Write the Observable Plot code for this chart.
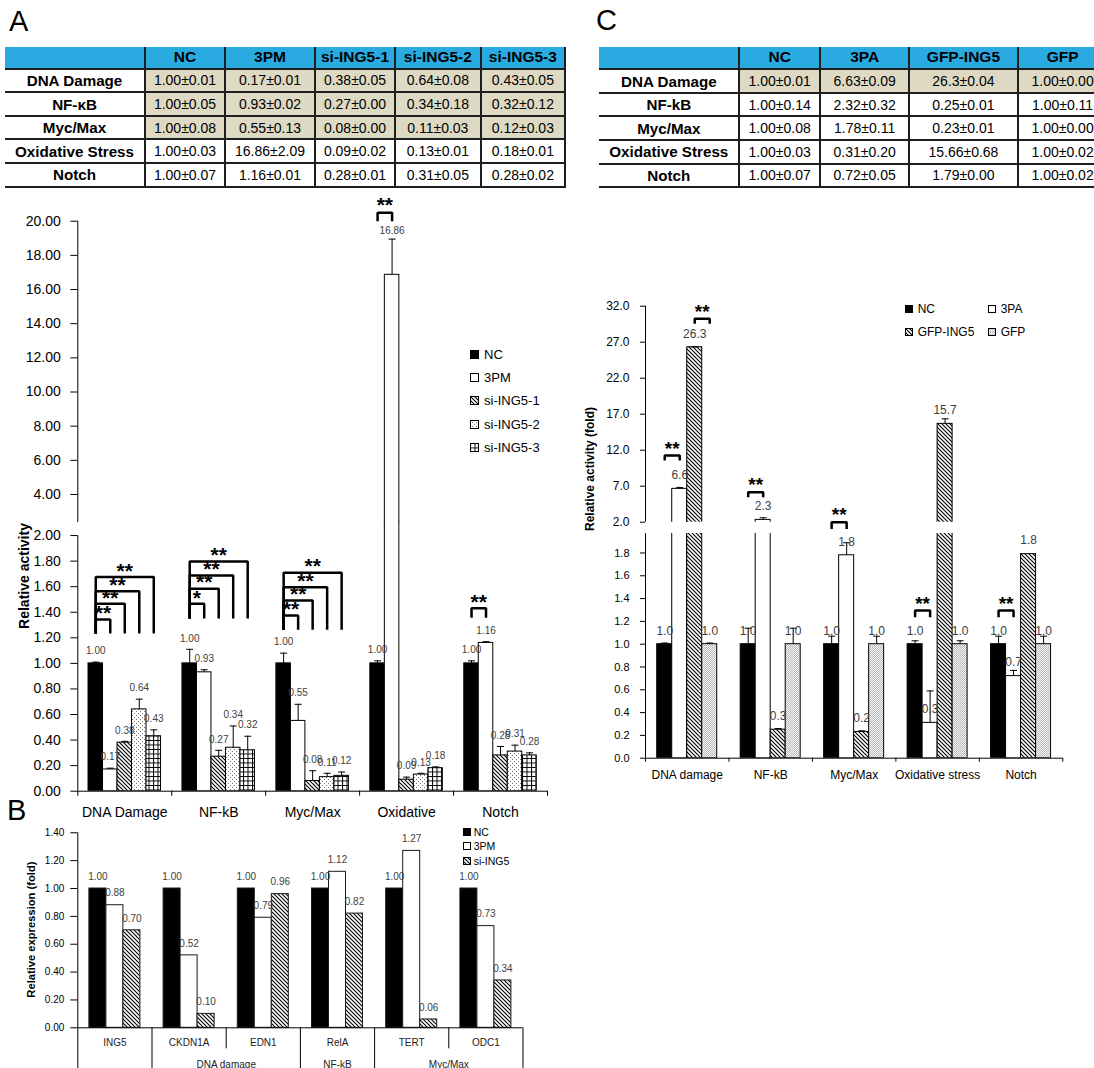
<!DOCTYPE html>
<html><head><meta charset="utf-8">
<script src="https://cdn.jsdelivr.net/npm/d3@7"></script>
<script src="https://cdn.jsdelivr.net/npm/@observablehq/plot@0.6"></script>
<style>
html,body{margin:0;padding:0;background:#fff;overflow:hidden;}
body{width:1094px;height:1068px;position:relative;font-family:"Liberation Sans",Arial,Helvetica,sans-serif;color:#000;}
.letter{position:absolute;font-size:29px;line-height:29px;}
table.t{position:absolute;border-collapse:collapse;table-layout:fixed;}
table.t td{border:2px solid #1e1e1e;text-align:center;padding:0;font-size:14px;white-space:nowrap;overflow:hidden;}
table.t tr.h td{background:#29abe2;font-weight:bold;font-size:15.5px;border-top:none;}
table.t td.rl{font-weight:bold;font-size:15.2px;border-left:none;background:#fff;}
table.t tr.h td.rl{background:#29abe2;}
table.t td.sh{background:#ddd9c3;}
.ytitle{position:absolute;font-weight:bold;text-align:center;white-space:nowrap;transform:rotate(-90deg);}
.lg{position:absolute;display:flex;align-items:center;white-space:nowrap;}
.chart{position:absolute;}
</style></head><body>
<svg width="0" height="0" style="position:absolute;left:0;top:0">
<defs>
<pattern id="pHatch" patternUnits="userSpaceOnUse" width="4" height="4">
<rect width="4" height="4" fill="#fff"/><path d="M-1,-1L5,5M-1,3L1,5M3,-1L5,1" stroke="#000" stroke-width="1.1"/></pattern>
<pattern id="pDots" patternUnits="userSpaceOnUse" width="4" height="4">
<rect width="4" height="4" fill="#fff"/><rect x="0" y="0" width="1" height="1" fill="#777"/><rect x="2" y="2" width="1" height="1" fill="#777"/></pattern>
<pattern id="pGrid" patternUnits="userSpaceOnUse" width="4.5" height="4.5">
<rect width="4.5" height="4.5" fill="#fff"/><path d="M0,0.5H4.5M0.5,0V4.5" stroke="#000" stroke-width="1"/></pattern>
<pattern id="pGfp" patternUnits="userSpaceOnUse" width="2" height="2">
<rect width="2" height="2" fill="#f4f4f4"/><rect x="0" y="0" width="1" height="1" fill="#b4b4b4"/><rect x="1" y="1" width="1" height="1" fill="#c4c4c4"/></pattern>
</defs></svg>
<script>
// ================= DATA =================
// Table A
const tableA_cols = ["NC", "3PM", "si-ING5-1", "si-ING5-2", "si-ING5-3"];
const tableA_rows = ["DNA Damage", "NF-\u03baB", "Myc/Max", "Oxidative Stress", "Notch"];
const tableA_NC  = ["1.00±0.01", "1.00±0.05", "1.00±0.08", "1.00±0.03", "1.00±0.07"];
const tableA_3PM = ["0.17±0.01", "0.93±0.02", "0.55±0.13", "16.86±2.09", "1.16±0.01"];
const tableA_si1 = ["0.38±0.05", "0.27±0.00", "0.08±0.00", "0.09±0.02", "0.28±0.01"];
const tableA_si2 = ["0.64±0.08", "0.34±0.18", "0.11±0.03", "0.13±0.01", "0.31±0.05"];
const tableA_si3 = ["0.43±0.05", "0.32±0.12", "0.12±0.03", "0.18±0.01", "0.28±0.02"];
const tableA_shaded = [true, true, true, false, false];

// Table C
const tableC_cols = ["NC", "3PA", "GFP-ING5", "GFP"];
const tableC_rows = ["DNA Damage", "NF-kB", "Myc/Max", "Oxidative Stress", "Notch"];
const tableC_NC      = ["1.00±0.01", "1.00±0.14", "1.00±0.08", "1.00±0.03", "1.00±0.07"];
const tableC_3PA     = ["6.63±0.09", "2.32±0.32", "1.78±0.11", "0.31±0.20", "0.72±0.05"];
const tableC_GFPING5 = ["26.3±0.04", "0.25±0.01", "0.23±0.01", "15.66±0.68", "1.79±0.00"];
const tableC_GFP     = ["1.00±0.00", "1.00±0.11", "1.00±0.00", "1.00±0.02", "1.00±0.02"];
const tableC_shaded = [true, false, false, false, false];

// Panel A chart
const panelA_groups = ["DNA Damage", "NF-kB", "Myc/Max", "Oxidative", "Notch"];
const panelA_series = ["NC", "3PM", "si-ING5-1", "si-ING5-2", "si-ING5-3"];
const panelA_NC  = [1.00, 1.00, 1.00, 1.00, 1.00];
const panelA_3PM = [0.17, 0.93, 0.55, 16.86, 1.16];
const panelA_si1 = [0.38, 0.27, 0.08, 0.09, 0.28];
const panelA_si2 = [0.64, 0.34, 0.11, 0.13, 0.31];
const panelA_si3 = [0.43, 0.32, 0.12, 0.18, 0.28];
const panelA_errNC  = [0.01, 0.11, 0.08, 0.02, 0.02];
const panelA_err3PM = [0.01, 0.02, 0.13, 2.09, 0.01];
const panelA_errSi1 = [0.01, 0.05, 0.08, 0.02, 0.07];
const panelA_errSi2 = [0.08, 0.17, 0.03, 0.01, 0.05];
const panelA_errSi3 = [0.05, 0.11, 0.03, 0.01, 0.02];
const panelA_ticksHigh = [4, 6, 8, 10, 12, 14, 16, 18, 20];
const panelA_ticksLow = [0, 0.2, 0.4, 0.6, 0.8, 1.0, 1.2, 1.4, 1.6, 1.8, 2.0];
// significance brackets (group, from series, to series, bracket level, leg bottom, text)
const panelA_bracketsLow = [
  {group: 0, from: 0, to: 1, level: 1.344, base: 1.234, text: "**"},
  {group: 0, from: 0, to: 2, level: 1.466, base: 1.234, text: "**"},
  {group: 0, from: 0, to: 3, level: 1.565, base: 1.234, text: "**"},
  {group: 0, from: 0, to: 4, level: 1.675, base: 1.234, text: "**"},
  {group: 1, from: 0, to: 1, level: 1.466, base: 1.351, text: "*"},
  {group: 1, from: 0, to: 2, level: 1.584, base: 1.351, text: "**"},
  {group: 1, from: 0, to: 3, level: 1.688, base: 1.351, text: "**"},
  {group: 1, from: 0, to: 4, level: 1.797, base: 1.351, text: "**"},
  {group: 2, from: 0, to: 1, level: 1.375, base: 1.263, text: "**"},
  {group: 2, from: 0, to: 2, level: 1.492, base: 1.263, text: "**"},
  {group: 2, from: 0, to: 3, level: 1.596, base: 1.263, text: "**"},
  {group: 2, from: 0, to: 4, level: 1.709, base: 1.263, text: "**"},
  {group: 4, from: 0, to: 1, level: 1.432, base: 1.357, text: "**"}
];
const panelA_bracketsHigh = [
  {group: 3, from: 0, to: 1, level: 20.49, base: 20.0, text: "**"}
];

// Panel B chart
const panelB_genes = ["ING5", "CKDN1A", "EDN1", "RelA", "TERT", "ODC1"];
const panelB_pathways = ["", "DNA damage", "DNA damage", "NF-kB", "Myc/Max", "Myc/Max"];
const panelB_series = ["NC", "3PM", "si-ING5"];
const panelB_NC  = [1.00, 1.00, 1.00, 1.00, 1.00, 1.00];
const panelB_3PM = [0.88, 0.52, 0.79, 1.12, 1.27, 0.73];
const panelB_si  = [0.70, 0.10, 0.96, 0.82, 0.06, 0.34];
const panelB_ticks = [0, 0.2, 0.4, 0.6, 0.8, 1.0, 1.2, 1.4];

// Panel C chart
const panelC_groups = ["DNA damage", "NF-kB", "Myc/Max", "Oxidative stress", "Notch"];
const panelC_series = ["NC", "3PA", "GFP-ING5", "GFP"];
const panelC_NC      = [1.00, 1.00, 1.00, 1.00, 1.00];
const panelC_3PA     = [6.63, 2.32, 1.78, 0.31, 0.72];
const panelC_GFPING5 = [26.3, 0.25, 0.23, 15.66, 1.79];
const panelC_GFP     = [1.00, 1.00, 1.00, 1.00, 1.00];
const panelC_errNC      = [0.01, 0.14, 0.07, 0.03, 0.07];
const panelC_err3PA     = [0.20, 0.30, 0.11, 0.28, 0.05];
const panelC_errGFPING5 = [0.04, 0.01, 0.01, 0.70, 0.00];
const panelC_errGFP     = [0.01, 0.14, 0.07, 0.03, 0.07];
const panelC_ticksHigh = [2, 7, 12, 17, 22, 27, 32];
const panelC_ticksLow = [0, 0.2, 0.4, 0.6, 0.8, 1.0, 1.2, 1.4, 1.6, 1.8];
const panelC_bracketsHigh = [
  {group: 0, from: 2, to: 3, level: 30.25, base: 29.56, text: "**"},
  {group: 0, from: 0, to: 1, level: 11.26, base: 10.57, text: "**"},
  {group: 1, from: 0, to: 1, level: 6.17, base: 5.47, text: "**"}
];
const panelC_bracketsLow = [
  {group: 2, from: 0, to: 1, level: 2.07, base: 2.01, text: "**"},
  {group: 3, from: 0, to: 1, level: 1.296, base: 1.237, text: "**"},
  {group: 4, from: 0, to: 1, level: 1.296, base: 1.237, text: "**"}
];

// ================= STYLE =================
const FONT = '"Liberation Sans", Arial, Helvetica, sans-serif';
const fmt2 = d3.format(".2f"), fmt1 = d3.format(".1f");
const fillsA = ["#000", "#fff", "url(#pHatch)", "url(#pDots)", "url(#pGrid)"];
const fillsB = ["#000", "#fff", "url(#pHatch)"];
const fillsC = ["#000", "#fff", "url(#pHatch)", "url(#pGfp)"];

function el(tag, cls, parent = document.body) {
  const e = document.createElement(tag); if (cls) e.className = cls; parent.appendChild(e); return e;
}
function place(node, left, top) {
  const d = el("div", "chart"); d.style.left = left + "px"; d.style.top = top + "px"; d.appendChild(node);
}
function letter(t, left, top) {
  const d = el("div", "letter"); d.textContent = t; d.style.left = left + "px"; d.style.top = top + "px";
}
function ytitle(t, cx, cy, size) {
  const w = 260, h = size + 4;
  const d = el("div", "ytitle"); d.textContent = t;
  Object.assign(d.style, {left: (cx - w / 2) + "px", top: (cy - h / 2) + "px", width: w + "px", height: h + "px", lineHeight: h + "px", fontSize: size + "px"});
}
function legend(items, fills, {left, top, rowGap, cols = 1, colGap = 0, box, gap, size}) {
  items.forEach((name, i) => {
    const r = Math.floor(i / cols), c = i % cols, h = size + 4;
    const d = el("div", "lg");
    Object.assign(d.style, {left: (left + c * colGap) + "px", top: (top + r * rowGap - h / 2) + "px", height: h + "px", fontSize: size + "px"});
    d.innerHTML = `<svg width="${box + 1}" height="${box + 1}" style="display:block"><rect x="0.5" y="0.5" width="${box}" height="${box}" fill="${fills[i]}" stroke="#000" stroke-width="1"/></svg><span style="margin-left:${gap}px">${name}</span>`;
  });
}
function table(cols, rows, columns, shaded, {left, top, widths, headH, rowH}) {
  const t = el("table", "t");
  t.style.left = left + "px"; t.style.top = top + "px"; t.style.width = d3.sum(widths) + "px";
  const cg = el("colgroup", null, t);
  widths.forEach(w => { const c = el("col", null, cg); c.style.width = w + "px"; });
  const hr = el("tr", "h", t); hr.style.height = headH + "px";
  el("td", "rl", hr);
  cols.forEach(c => { el("td", null, hr).textContent = c; });
  rows.forEach((r, i) => {
    const tr = el("tr", null, t); tr.style.height = rowH + "px";
    el("td", "rl", tr).textContent = r;
    columns.forEach(col => { el("td", shaded[i] ? "sh" : null, tr).textContent = col[i]; });
  });
}

// Grouped bar chart section (one part of a broken axis)
function chart(c) {
  const G = c.groups.length, n = c.series.length;
  const [lo, hi] = c.yDomain;
  const k = (c.height - c.marginTop - c.marginBottom) / (hi - lo);
  const gpx = (c.width - c.marginLeft - c.marginRight) / G;
  const bw = c.barPx / gpx, cap = (c.capPx || 3.5) / gpx;
  const pos = (gi, si) => gi + (si - (n - 1) / 2) * bw;
  const rows = [];
  c.groups.forEach((g, gi) => c.series.forEach((s, si) =>
    rows.push({gi, si, v: c.values[si][gi], e: c.errors ? c.errors[si][gi] : 0})));
  const X = d => pos(d.gi, d.si);
  const inChart = d => c.part === "upper" ? d.v > lo : d.v < hi;
  const marks = [];
  c.series.forEach((s, si) => marks.push(Plot.rect(rows.filter(d => d.si === si && d.v > lo), {
    x1: d => X(d) - bw / 2, x2: d => X(d) + bw / 2, y1: 0, y2: "v",
    fill: c.fills[si], stroke: "#000", strokeWidth: 1, clip: true
  })));
  const errRows = rows.filter(d => inChart(d) && d.e > 0);
  marks.push(Plot.ruleX(errRows, {x: X, y1: "v", y2: d => d.v + d.e, stroke: "#000", strokeWidth: 1}));
  marks.push(Plot.link(errRows, {x1: d => X(d) - cap, x2: d => X(d) + cap, y1: d => d.v + d.e, y2: d => d.v + d.e, stroke: "#000", strokeWidth: 1}));
  marks.push(Plot.text(rows.filter(inChart), {
    x: X, y: d => d.v + Math.max(c.labelAbove / k, d.e + c.labelCapGap / k),
    text: d => c.labelFmt(d.v), fontSize: c.labelSize, fill: "#404040", fontFamily: FONT
  }));
  if (c.brackets) {
    const pts = c.brackets.flatMap((b, i) => {
      const xa = pos(b.group, b.from), xb = pos(b.group, b.to);
      return [{i, x: xa, y: b.base}, {i, x: xa, y: b.level}, {i, x: xb, y: b.level}, {i, x: xb, y: b.base}];
    });
    marks.push(Plot.line(pts, {x: "x", y: "y", z: "i", stroke: "#000", strokeWidth: 2.5, strokeLinejoin: "miter", strokeLinecap: "butt"}));
    marks.push(Plot.text(c.brackets, {
      x: b => (pos(b.group, b.from) + pos(b.group, b.to)) / 2, y: "level", text: "text",
      fontSize: c.starSize, fontWeight: "bold", dy: c.starDy, fill: "#000", fontFamily: FONT
    }));
  }
  marks.push(Plot.ruleX([-0.5], {y1: c.axisFrom, y2: c.axisTo, stroke: "#000", strokeWidth: 1}));
  if (c.part === "lower") {
    marks.push(Plot.ruleY([0], {stroke: "#000", strokeWidth: 1}));
    marks.push(Plot.text(c.groups, {x: (d, i) => i, y: 0, dy: c.groupLabelDy, text: d => d, fontSize: c.groupLabelSize, fill: "#000", fontFamily: FONT}));
  }
  return Plot.plot({
    width: c.width, height: c.height,
    marginLeft: c.marginLeft, marginRight: c.marginRight, marginTop: c.marginTop, marginBottom: c.marginBottom,
    x: c.part === "lower"
      ? {domain: [-0.5, G - 0.5], ticks: d3.range(G + 1).map(i => i - 0.5), tickFormat: () => "", tickSize: c.xTickSize, label: null}
      : {domain: [-0.5, G - 0.5], axis: null},
    y: {domain: c.yDomain, ticks: c.yTicks, tickFormat: c.yFmt, tickSize: c.yTickSize, tickPadding: c.yTickPadding, label: null},
    style: {background: "transparent", fontFamily: FONT, fontSize: c.tickFontSize + "px", color: "#000", overflow: "visible"},
    marks
  });
}

// ================= BUILD =================
letter("A", 9, 7);
letter("C", 596, 6);
letter("B", 7, 796);

table(tableA_cols, tableA_rows, [tableA_NC, tableA_3PM, tableA_si1, tableA_si2, tableA_si3], tableA_shaded,
  {left: 5, top: 46.7, widths: [140, 80, 90, 80, 85.7, 84.3], headH: 22, rowH: 23.6});
table(tableC_cols, tableC_rows, [tableC_NC, tableC_3PA, tableC_GFPING5, tableC_GFP], tableC_shaded,
  {left: 599.3, top: 46.7, widths: [140, 80.7, 89.3, 108.3, 90], headH: 22.6, rowH: 23.6});

const valuesA = [panelA_NC, panelA_3PM, panelA_si1, panelA_si2, panelA_si3];
const errorsA = [panelA_errNC, panelA_err3PM, panelA_errSi1, panelA_errSi2, panelA_errSi3];
const baseA = {groups: panelA_groups, series: panelA_series, values: valuesA, errors: errorsA, fills: fillsA,
  width: 560, marginLeft: 77.3, marginRight: 13, barPx: 14.5, capPx: 3.5, yFmt: fmt2, yTickSize: 7, yTickPadding: 10,
  tickFontSize: 14, labelAbove: 12, labelSize: 10, labelFmt: fmt2, starSize: 21};
place(chart({...baseA, part: "upper", height: 332, marginTop: 30.7, marginBottom: 0, yDomain: [2.36, 20],
  yTicks: panelA_ticksHigh, axisFrom: 2.36, axisTo: 20, labelCapGap: 8, brackets: panelA_bracketsHigh, starDy: -8}), 0, 190);
place(chart({...baseA, part: "lower", height: 307, marginTop: 6, marginBottom: 31.3, yDomain: [0, 2.11],
  yTicks: panelA_ticksLow, axisFrom: 0, axisTo: 2, labelCapGap: 11, brackets: panelA_bracketsLow, starDy: -6,
  xTickSize: 5, groupLabelDy: 21, groupLabelSize: 14}), 0, 515);
ytitle("Relative activity", 23.5, 576, 14);
legend(panelA_series, fillsA, {left: 470, top: 354, rowGap: 23.4, box: 8, gap: 5, size: 13});

const valuesC = [panelC_NC, panelC_3PA, panelC_GFPING5, panelC_GFP];
const errorsC = [panelC_errNC, panelC_err3PA, panelC_errGFPING5, panelC_errGFP];
const baseC = {groups: panelC_groups, series: panelC_series, values: valuesC, errors: errorsC, fills: fillsC,
  width: 514, marginLeft: 65, marginRight: 31.7, barPx: 15, capPx: 3.5, yFmt: fmt1, yTickSize: 5, yTickPadding: 11,
  labelAbove: 13.5, labelCapGap: -1000, labelSize: 12, labelFmt: fmt1, starSize: 19, starDy: -7};
place(chart({...baseC, part: "upper", height: 234, marginTop: 15.7, marginBottom: 2.3, yDomain: [2, 32],
  yTicks: panelC_ticksHigh, axisFrom: 2, axisTo: 32, tickFontSize: 12, brackets: panelC_bracketsHigh}), 580, 290);
place(chart({...baseC, part: "lower", height: 285, marginTop: 28.1, marginBottom: 32.3, yDomain: [0, 1.97],
  yTicks: panelC_ticksLow, axisFrom: 0, axisTo: 1.97, tickFontSize: 11, brackets: panelC_bracketsLow,
  xTickSize: 4, groupLabelDy: 17.3, groupLabelSize: 12}), 580, 505);
ytitle("Relative activity (fold)", 590, 469, 12);
legend(panelC_series, fillsC, {left: 905, top: 309, rowGap: 23, cols: 2, colGap: 83, box: 7, gap: 4.7, size: 12});

// Panel B
(function () {
  const G = panelB_genes.length, series = panelB_series, n = series.length, values = [panelB_NC, panelB_3PM, panelB_si];
  const width = 560, height = 248, mL = 77.3, mR = 37.5, mT = 12.3, mB = 40.7;
  const k = (height - mT - mB) / 1.4, gpx = (width - mL - mR) / G, bw = 17 / gpx;
  const pos = (gi, si) => gi + (si - (n - 1) / 2) * bw;
  const rows = [];
  panelB_genes.forEach((g, gi) => series.forEach((s, si) => rows.push({gi, si, v: values[si][gi]})));
  const marks = [];
  series.forEach((s, si) => marks.push(Plot.rect(rows.filter(d => d.si === si), {
    x1: d => pos(d.gi, d.si) - bw / 2, x2: d => pos(d.gi, d.si) + bw / 2, y1: 0, y2: "v",
    fill: fillsB[si], stroke: "#1a1a1a", strokeWidth: 1
  })));
  marks.push(Plot.text(rows, {x: d => pos(d.gi, d.si), y: d => d.v + 12 / k, text: d => fmt2(d.v), fontSize: 10, fill: "#404040", fontFamily: FONT}));
  marks.push(Plot.ruleY([0], {stroke: "#000"}));
  marks.push(Plot.ruleX([-0.5], {y1: 0, y2: 1.4, stroke: "#000"}));
  const bounds = d3.range(G + 1).map(i => ({x: i - 0.5, full: i === 0 || i === G || panelB_pathways[i - 1] !== panelB_pathways[i]}));
  marks.push(Plot.ruleX(bounds, {x: "x", y1: 0, y2: d => d.full ? -0.4 : -0.151, stroke: "#000", strokeWidth: 1}));
  marks.push(Plot.text(panelB_genes, {x: (d, i) => i, y: 0, dy: 15, text: d => d, fontSize: 10, fill: "#222", fontFamily: FONT}));
  const spans = [];
  panelB_pathways.forEach((p, i) => {
    if (!p) return;
    const last = spans[spans.length - 1];
    if (last && last.name === p && last.end === i - 1) last.end = i; else spans.push({name: p, start: i, end: i});
  });
  marks.push(Plot.text(spans, {x: d => (d.start + d.end) / 2, y: 0, dy: 36.7, text: "name", fontSize: 10, fill: "#222", fontFamily: FONT}));
  const svg = Plot.plot({
    width, height, marginLeft: mL, marginRight: mR, marginTop: mT, marginBottom: mB,
    x: {domain: [-0.5, G - 0.5], axis: null},
    y: {domain: [0, 1.4], ticks: panelB_ticks, tickFormat: fmt2, tickSize: 7, tickPadding: 6.5, label: null},
    style: {background: "transparent", fontFamily: FONT, fontSize: "10px", color: "#000", overflow: "visible"},
    marks
  });
  place(svg, 0, 820);
})();
ytitle("Relative expression (fold)", 32.3, 930, 11.2);
legend(panelB_series, fillsB, {left: 463, top: 831.7, rowGap: 14.5, box: 7, gap: 2.7, size: 10.5});
</script>
</body></html>
